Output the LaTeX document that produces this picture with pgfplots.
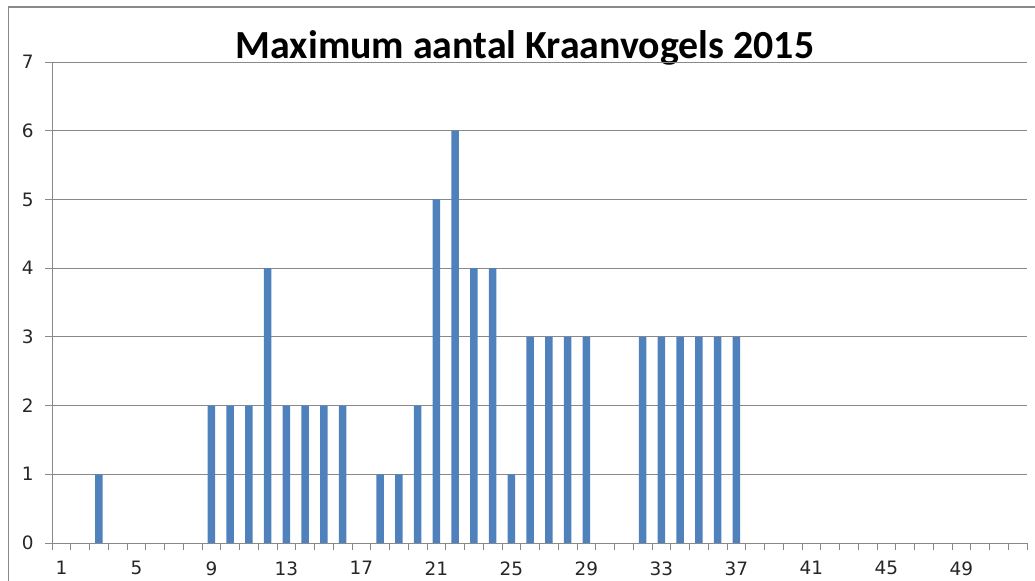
\documentclass[border=0pt]{standalone}
\usepackage{pgfplots}
\pgfplotsset{compat=1.18}
\usepackage{fontspec}
\setmainfont{DejaVu Sans}
\newfontfamily\titlefont{Carlito}
\definecolor{barblue}{HTML}{4F81BD}
\definecolor{gridgray}{HTML}{898989}
\begin{document}
\begin{tikzpicture}[x=1bp,y=1bp]
\useasboundingbox (0,0) rectangle (1035,581);
\draw[gridgray, line width=1.2bp] (8.5,0) -- (8.5,574) -- (1035,574);
\node[font=\titlefont\bfseries\fontsize{40}{44}\selectfont, anchor=center] at (525,533) {Maximum aantal Kraanvogels 2015};
\begin{axis}[
  at={(52bp,38bp)}, anchor=south west,
  scale only axis, width=975bp, height=481bp,
  xmin=0.5, xmax=52.5, ymin=0, ymax=7,
  axis x line=bottom, axis y line=left,
  axis line style={gridgray, line width=0.8bp, -},
  xtick={1,5,...,49},
  minor xtick={0.5,1.5,...,52.5},
  ytick={0,1,...,7},
  major x tick style={draw=none},
  minor x tick style={gridgray, line width=0.8bp},
  y tick style={gridgray, line width=0.8bp},
  tick align=outside,
  minor tick length=7bp,
  major tick length=7bp,
  ymajorgrids,
  grid style={gridgray, line width=0.8bp},
  /pgf/number format/assume math mode=true,
  tick label style={font=\fontsize{18.5}{22}\selectfont, text=black!85},
  xticklabel style={yshift=-8bp},
  yticklabel style={xshift=-8bp},
]
\addplot[ybar, bar width=7.5bp, fill=barblue, draw=none] coordinates {
(3,1) (9,2) (10,2) (11,2) (12,4) (13,2) (14,2) (15,2) (16,2)
(18,1) (19,1) (20,2) (21,5) (22,6) (23,4) (24,4) (25,1)
(26,3) (27,3) (28,3) (29,3)
(32,3) (33,3) (34,3) (35,3) (36,3) (37,3)
};
\end{axis}
\end{tikzpicture}
\end{document}
